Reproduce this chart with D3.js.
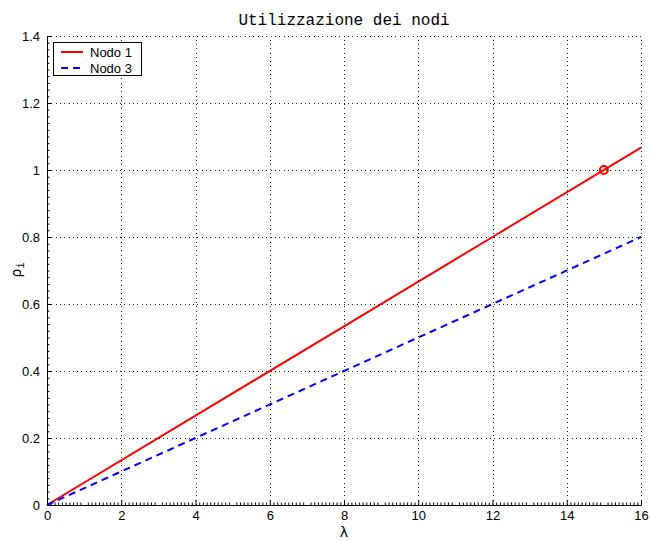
<!DOCTYPE html>
<html>
<head>
<meta charset="utf-8">
<script src="https://cdn.jsdelivr.net/npm/d3@7"></script>
<style>
  html, body { margin: 0; padding: 0; background: #fff; }
  svg { display: block; }
</style>
</head>
<body>
<svg id="chart" width="650" height="541"></svg>
<script>
// Arrival rate λ and the utilisation ρ of each node
const lambdaValues = [0, 4, 8, 12, 16];
const nodo1Values = [0, 0.2667, 0.5333, 0.8, 1.0667];
const nodo3Values = [0, 0.2, 0.4, 0.6, 0.8];
const saturationPoint = [{ x: 15, y: 1 }];

const xTicks = [0, 2, 4, 6, 8, 10, 12, 14, 16];
const yTicks = [0, 0.2, 0.4, 0.6, 0.8, 1, 1.2, 1.4];
const seriesNames = ["Nodo 1", "Nodo 3"];

const svg = d3.select("#chart");
const plotLeft = 47, plotRight = 641, plotTop = 36, plotBottom = 505;

const x = d3.scaleLinear().domain([0, 16]).range([plotLeft, plotRight]);
const y = d3.scaleLinear().domain([0, 1.4]).range([plotBottom, plotTop]);

// dotted grid at the major ticks
const grid = svg.append("g").attr("stroke", "#222").attr("stroke-width", 1)
  .attr("stroke-dasharray", "1,3.3").attr("shape-rendering", "crispEdges");
grid.selectAll("line.v").data(xTicks.filter(d => d > 0)).join("line")
  .attr("x1", d => Math.round(x(d)) + 0.5).attr("x2", d => Math.round(x(d)) + 0.5)
  .attr("y1", plotBottom).attr("y2", plotTop);
grid.selectAll("line.h").data(yTicks.filter(d => d > 0)).join("line")
  .attr("x1", plotLeft).attr("x2", plotRight)
  .attr("y1", d => Math.round(y(d)) + 0.5).attr("y2", d => Math.round(y(d)) + 0.5);

// minor ticks, pointing inward
const xMinor = d3.range(0, 161).map(i => i / 10).filter((d, i) => i % 10 !== 0);
const yMinor = d3.range(0, 71).map(i => i / 50).filter((d, i) => i % 10 !== 0);

svg.append("g").attr("transform", `translate(0,${plotBottom})`)
  .call(d3.axisBottom(x).tickValues(xTicks).tickSizeInner(-5).tickSizeOuter(0).tickPadding(6).tickFormat(d3.format("")));
svg.append("g").attr("transform", `translate(0,${plotBottom})`)
  .call(d3.axisBottom(x).tickValues(xMinor).tickSize(-2.5).tickFormat(""))
  .select(".domain").remove();

svg.append("g").attr("transform", `translate(${plotLeft},0)`)
  .call(d3.axisLeft(y).tickValues(yTicks).tickSizeInner(-5).tickSizeOuter(0).tickPadding(7).tickFormat(d3.format("")));
svg.append("g").attr("transform", `translate(${plotLeft},0)`)
  .call(d3.axisLeft(y).tickValues(yMinor).tickSize(-2.5).tickFormat(""))
  .select(".domain").remove();

svg.selectAll(".tick text").attr("font-family", "Liberation Sans, Arial, sans-serif")
  .attr("font-size", 13).attr("fill", "#000");
svg.selectAll(".domain, .tick line").attr("stroke", "#000").attr("stroke-width", 1);

// series
const line = d3.line().x(d => x(d[0])).y(d => y(d[1]));
svg.append("path").datum(lambdaValues.map((l, i) => [l, nodo1Values[i]]))
  .attr("d", line).attr("fill", "none").attr("stroke", "#ff0000").attr("stroke-width", 2);
svg.append("path").datum(lambdaValues.map((l, i) => [l, nodo3Values[i]]))
  .attr("d", line).attr("fill", "none").attr("stroke", "#0000ff").attr("stroke-width", 2)
  .attr("stroke-dasharray", "7,5");

svg.selectAll("circle.sat").data(saturationPoint).join("circle")
  .attr("cx", d => x(d.x)).attr("cy", d => y(d.y)).attr("r", 4)
  .attr("fill", "none").attr("stroke", "#ff0000").attr("stroke-width", 2);

// title and axis labels
svg.append("text").attr("x", (plotLeft + plotRight) / 2).attr("y", 25).attr("text-anchor", "middle")
  .attr("font-family", "Liberation Mono, Courier New, monospace").attr("font-size", 16)
  .text("Utilizzazione dei nodi");
svg.append("text").attr("x", (plotLeft + plotRight) / 2).attr("y", 537).attr("text-anchor", "middle")
  .attr("font-family", "DejaVu Sans, sans-serif").attr("font-size", 14).text("λ");
const yl = svg.append("text").attr("transform", "translate(21,270) rotate(-90)")
  .attr("text-anchor", "middle").attr("font-family", "DejaVu Sans, sans-serif").attr("font-size", 14);
yl.append("tspan").text("ρ");
yl.append("tspan").attr("dy", 3).attr("font-family", "Liberation Mono, monospace")
  .attr("font-size", 10).text("i");

// legend
const lg = svg.append("g");
lg.append("rect").attr("x", 53.5).attr("y", 42.5).attr("width", 88).attr("height", 33)
  .attr("fill", "#fff").attr("stroke", "#000").attr("stroke-width", 1);
const legendStyles = [{ c: "#ff0000", dash: null }, { c: "#0000ff", dash: "7,5" }];
seriesNames.forEach((name, i) => {
  const yy = 52 + i * 16;
  lg.append("line").attr("x1", 61).attr("x2", 83).attr("y1", yy).attr("y2", yy)
    .attr("stroke", legendStyles[i].c).attr("stroke-width", 2)
    .attr("stroke-dasharray", legendStyles[i].dash);
  lg.append("text").attr("x", 90).attr("y", yy + 4.5)
    .attr("font-family", "Liberation Sans, Arial, sans-serif").attr("font-size", 13).text(name);
});
</script>
</body>
</html>
